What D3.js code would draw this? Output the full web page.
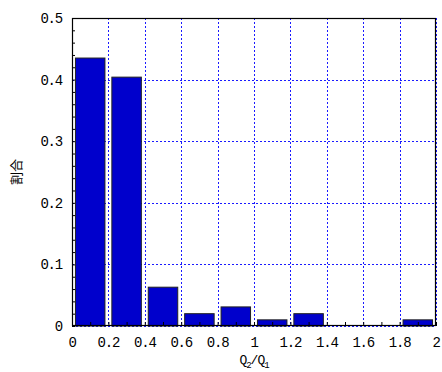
<!DOCTYPE html>
<html><head><meta charset="utf-8">
<script src="https://cdn.jsdelivr.net/npm/d3@7"></script>
<style>body{margin:0;background:#fff}svg{display:block}</style>
</head><body>
<script>
const binStarts = [0, 0.2, 0.4, 0.6, 0.8, 1.0, 1.2, 1.4, 1.6, 1.8];
const binWidth = 0.2;
const ratios = [0.435, 0.404, 0.063, 0.020, 0.031, 0.010, 0.020, 0, 0, 0.010];
const xTicks = [0, 0.2, 0.4, 0.6, 0.8, 1, 1.2, 1.4, 1.6, 1.8, 2];
const xTickLabels = ["0","0.2","0.4","0.6","0.8","1","1.2","1.4","1.6","1.8","2"];
const yTicks = [0, 0.1, 0.2, 0.3, 0.4, 0.5];
const yTickLabels = ["0","0.1","0.2","0.3","0.4","0.5"];
const yLabel = "割合";

const W = 442, H = 372;
const m = {l: 72, r: 6, t: 18, b: 46};
const svg = d3.select("body").append("svg").attr("width", W).attr("height", H);
const x = d3.scaleLinear().domain([0, 2]).range([m.l, W - m.r]);
const y = d3.scaleLinear().domain([0, 0.5]).range([H - m.b, m.t]);
const g = svg.append("g");

// grid
g.selectAll(".gx").data(xTicks).join("line")
  .attr("x1", d => Math.round(x(d)) + 0.5).attr("x2", d => Math.round(x(d)) + 0.5)
  .attr("y1", y(0.5)).attr("y2", y(0))
  .attr("stroke", "#1a1aff").attr("stroke-width", 1).attr("stroke-dasharray", "2,2");
g.selectAll(".gy").data(yTicks).join("line")
  .attr("y1", d => Math.round(y(d)) + 0.5).attr("y2", d => Math.round(y(d)) + 0.5)
  .attr("x1", x(0)).attr("x2", x(2))
  .attr("stroke", "#1a1aff").attr("stroke-width", 1).attr("stroke-dasharray", "2,2");

// bars
const frac = 0.81;
g.selectAll(".bar").data(binStarts.map((s, i) => ({s, v: ratios[i]})).filter(d => d.v > 0)).join("rect")
  .attr("x", d => x(d.s + binWidth * (1 - frac) / 2))
  .attr("width", d => x(d.s + binWidth * (1 + frac) / 2) - x(d.s + binWidth * (1 - frac) / 2))
  .attr("y", d => y(d.v))
  .attr("height", d => y(0) - y(d.v))
  .attr("fill", "#0000cc").attr("stroke", "#222").attr("stroke-width", 1);

// frame
g.append("rect").attr("x", x(0) + 0.5).attr("y", y(0.5) + 0.5)
  .attr("width", x(2) - x(0) - 1).attr("height", y(0) - y(0.5) - 1)
  .attr("fill", "none").attr("stroke", "#000").attr("stroke-width", 1.2);

// axes with inward ticks
const fontMono = "'Liberation Mono','DejaVu Sans Mono',monospace";
const xAxis = d3.axisBottom(x).tickValues(d3.range(0, 2.0001, 0.1)).tickSize(-4).tickFormat("");
const ax = svg.append("g").attr("transform", `translate(0,${y(0)})`).call(xAxis);
ax.select(".domain").remove();
ax.selectAll("line").attr("stroke", "#000");
const yAxis = d3.axisLeft(y).tickValues(d3.range(0, 0.5001, 0.02)).tickSize(-3).tickFormat("");
const ay = svg.append("g").attr("transform", `translate(${x(0)},0)`).call(yAxis);
ay.select(".domain").remove();
ay.selectAll("line").attr("stroke", "#000");

// tick labels
svg.selectAll(".xl").data(xTicks).join("text")
  .attr("x", d => x(d)).attr("y", 347)
  .attr("text-anchor", "middle")
  .attr("font-family", fontMono).attr("font-size", 14).attr("letter-spacing", -1.2)
  .attr("fill", "#000")
  .text((d, i) => xTickLabels[i]);
svg.selectAll(".yl").data(yTicks).join("text")
  .attr("x", 62).attr("y", d => y(d) + 5)
  .attr("text-anchor", "end")
  .attr("font-family", fontMono).attr("font-size", 14).attr("letter-spacing", -1.2)
  .attr("fill", "#000")
  .text((d, i) => yTickLabels[i]);

// x label Q2/Q1
const xl = svg.append("text").attr("x", x(1)).attr("y", 364).attr("text-anchor", "middle")
  .attr("font-family", fontMono).attr("font-size", 13).attr("fill", "#000").attr("letter-spacing", -1);
xl.append("tspan").text("Q");
xl.append("tspan").attr("font-size", 9).attr("dy", 4).text("2");
xl.append("tspan").attr("dy", -4).text("/Q");
xl.append("tspan").attr("font-size", 9).attr("dy", 4).text("1");

// y label
svg.append("text").attr("transform", `translate(21,${(y(0) + y(0.5)) / 2}) rotate(-90)`)
  .attr("text-anchor", "middle")
  .attr("font-family", "'Noto Sans CJK JP'").attr("font-size", 13).attr("fill", "#000")
  .text(yLabel);
</script>
</body></html>
